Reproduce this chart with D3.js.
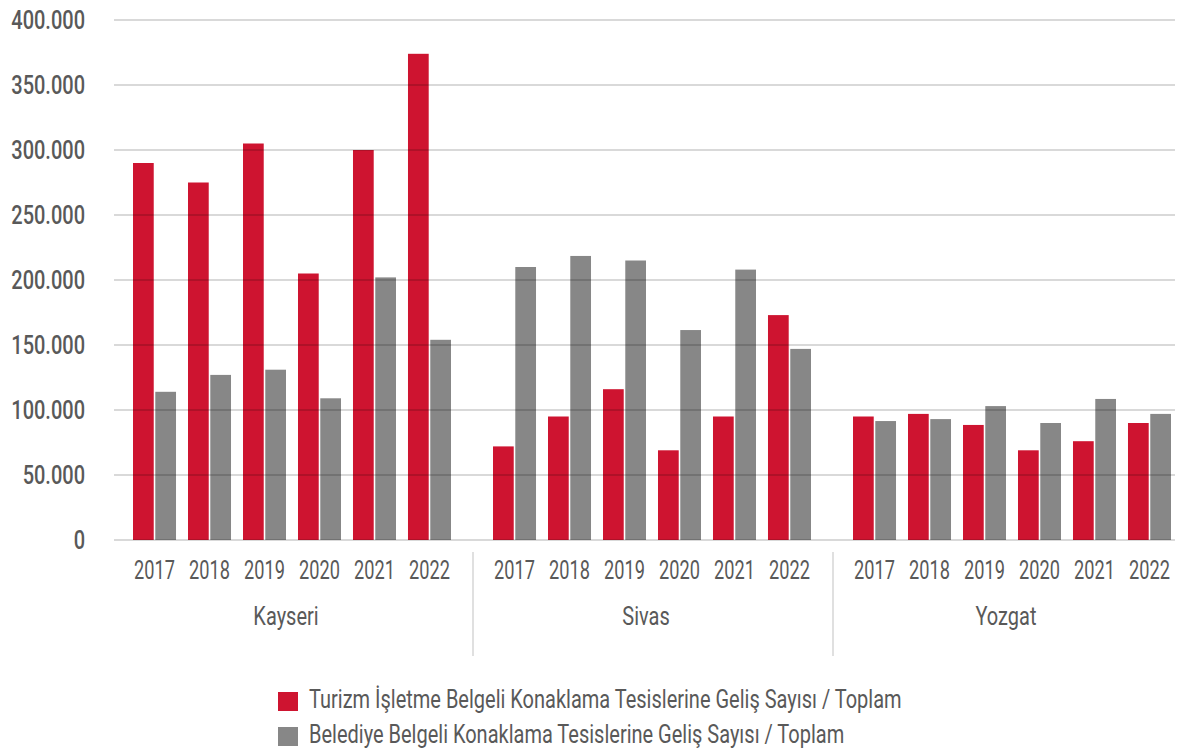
<!DOCTYPE html>
<html>
<head>
<meta charset="utf-8">
<script src="https://cdn.jsdelivr.net/npm/d3@7"></script>
<style>
  html, body { margin: 0; padding: 0; background: #ffffff; }
  svg { display: block; }
  text { font-family: "Roboto", "Liberation Sans", sans-serif; fill: #595959; }
</style>
</head>
<body>
<svg id="chart" width="1180" height="749"></svg>
<script>
// Provinces, years and arrivals per accommodation type
const provinces = ["Kayseri", "Sivas", "Yozgat"];
const years = ["2017", "2018", "2019", "2020", "2021", "2022"];
const seriesNames = [
  "Turizm İşletme Belgeli Konaklama Tesislerine Geliş Sayısı / Toplam",
  "Belediye Belgeli Konaklama Tesislerine Geliş Sayısı / Toplam"
];
const tourismValues = [
  [290000, 275000, 305000, 205000, 300000, 374000],
  [72000, 95000, 116000, 69000, 95000, 173000],
  [95000, 97000, 88500, 69000, 76000, 90000]
];
const municipalValues = [
  [114000, 127000, 131000, 109000, 202000, 154000],
  [210000, 218500, 215000, 161500, 208000, 147000],
  [91500, 93000, 103000, 90000, 108500, 97000]
];
const yTicks = [0, 50000, 100000, 150000, 200000, 250000, 300000, 350000, 400000];
const colors = ["#CE1430", "#878787"];

const svg = d3.select("#chart");

const plotLeft = 114, plotRight = 1175;
const y = d3.scaleLinear().domain([0, 400000]).range([540, 20]);

// Outer scale: one band per province; inner: one band per year; innermost: series
const x0 = d3.scaleBand().domain(provinces).range([112, 1192]);
const x1 = d3.scaleBand().domain(years).range([0, x0.bandwidth()])
  .paddingInner(0.218).paddingOuter(0.382);
const x2 = d3.scaleBand().domain([0, 1]).range([0, x1.bandwidth()]).paddingInner(0.07);

const fmt = v => d3.format(",")(v).replace(/,/g, ".");

// Narrow text: position via transform and squeeze horizontally
function narrowText(sel, fx, fy, sx) {
  sel.attr("x", 0).attr("y", 0)
    .attr("transform", (d, i) => `translate(${fx(d, i)},${fy(d, i)}) scale(${sx},1)`);
}

// Y axis labels
svg.append("g").selectAll("text").data(yTicks).join("text")
  .attr("text-anchor", "end")
  .style("font-size", "25px")
  .style("font-weight", "500")
  .text(fmt)
  .call(narrowText, () => 85, d => y(d) + 9, 0.8);

// Bars
const rows = [];
provinces.forEach((p, pi) => {
  years.forEach((yr, yi) => {
    rows.push({ p, yr, s: 0, v: tourismValues[pi][yi] });
    rows.push({ p, yr, s: 1, v: municipalValues[pi][yi] });
  });
});
svg.append("g").selectAll("rect").data(rows).join("rect")
  .attr("x", d => x0(d.p) + x1(d.yr) + x2(d.s))
  .attr("width", x2.bandwidth())
  .attr("y", d => y(d.v))
  .attr("height", d => y(0) - y(d.v))
  .attr("fill", d => colors[d.s]);

// Gridlines (drawn over bars, semi-transparent)
svg.append("g").selectAll("line").data(yTicks).join("line")
  .attr("x1", plotLeft).attr("x2", plotRight)
  .attr("y1", d => y(d)).attr("y2", d => y(d))
  .attr("stroke", "rgba(0,0,0,0.2)")
  .attr("stroke-width", 1.6);

// Year labels
const yearG = svg.append("g");
provinces.forEach(p => {
  yearG.append("g").selectAll("text").data(years).join("text")
    .attr("text-anchor", "middle")
    .style("font-size", "26px")
    .text(d => d)
    .call(narrowText, d => x0(p) + x1(d) + x1.bandwidth() / 2, () => 579, 0.7);
});

// Province labels
svg.append("g").selectAll("text").data(provinces).join("text")
  .attr("text-anchor", "middle")
  .style("font-size", "25px")
  .text(d => d)
  .call(narrowText, d => x0(d) + x0.bandwidth() / 2 - 6, () => 625, 0.8);

// Group separators
svg.append("g").selectAll("line").data(provinces.slice(1)).join("line")
  .attr("x1", d => x0(d) + 1).attr("x2", d => x0(d) + 1)
  .attr("y1", 552).attr("y2", 656)
  .attr("stroke", "#d0d0d0").attr("stroke-width", 1.3);

// Legend
const legend = svg.append("g").selectAll("g").data(seriesNames).join("g")
  .attr("transform", (d, i) => `translate(278,${692 + i * 35})`);
legend.append("rect").attr("width", 20).attr("height", 19).attr("fill", (d, i) => colors[i]);
legend.append("text")
  .style("font-size", "25px")
  .text(d => d)
  .call(narrowText, () => 31, () => 15.5, 0.8);
</script>
</body>
</html>
